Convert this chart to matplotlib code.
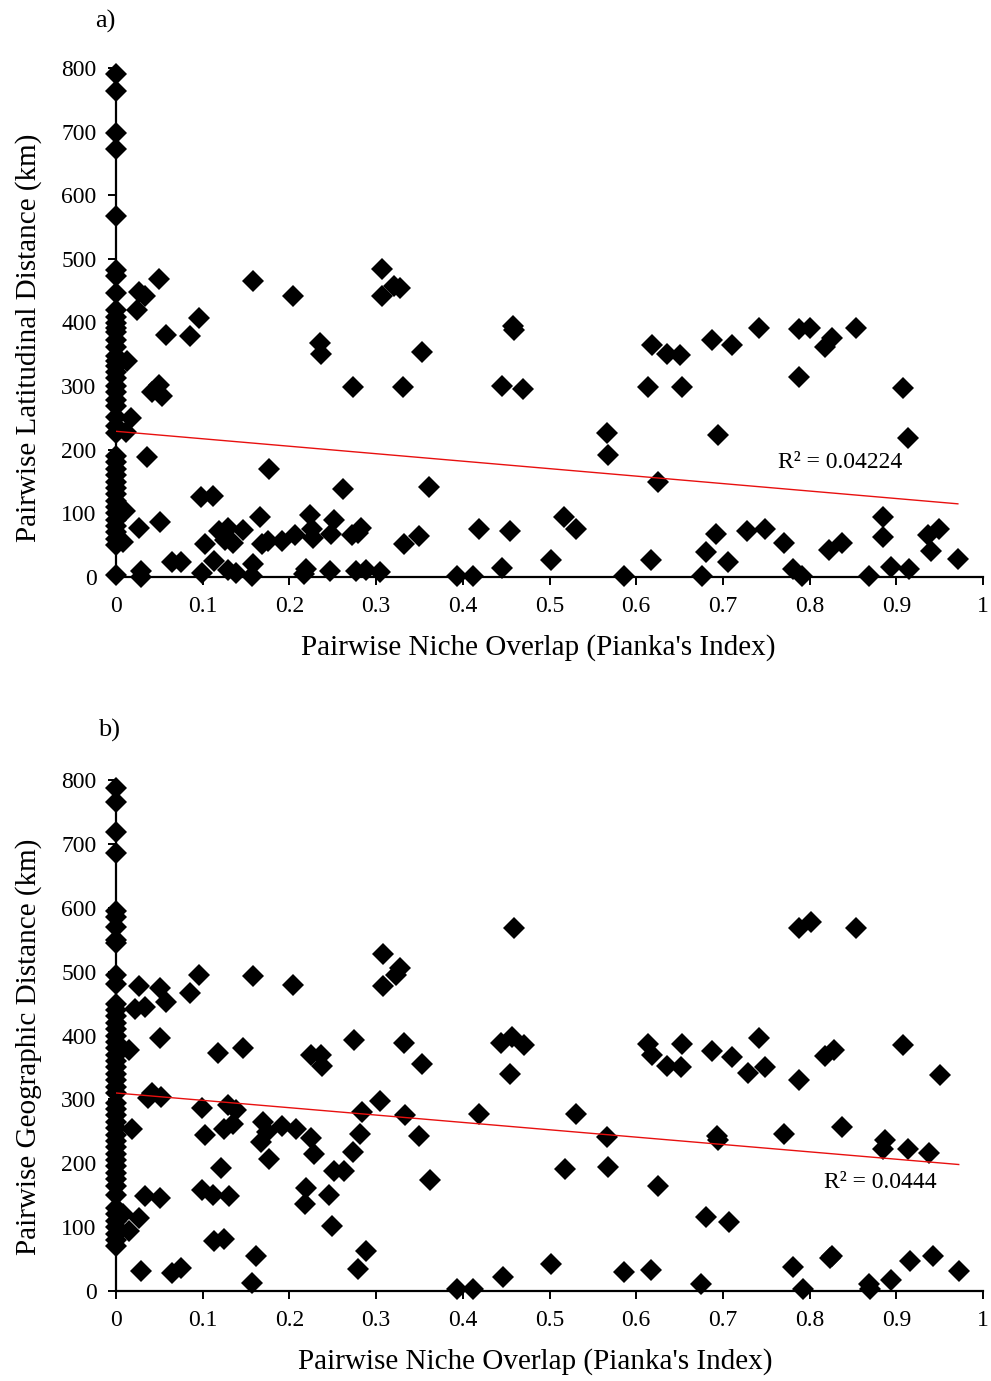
import numpy as np
import matplotlib
matplotlib.use("Agg")
import matplotlib.pyplot as plt

plt.rcParams['font.family'] = ['Liberation Serif', 'DejaVu Serif']

# ---- panel a: niche overlap vs latitudinal distance ----
# pairs with zero overlap (stacked on the y axis)
lat_zero_dist = [790, 764, 698, 673, 568, 482, 473, 446, 420, 408, 400, 392, 385, 372,
                 362, 348, 340, 332, 322, 312, 300, 290, 278, 268, 252, 238, 226, 190,
                 180, 170, 160, 150, 140, 130, 120, 110, 100, 90, 80, 70, 60, 50, 3]
lat_overlap = [0.013, 0.017, 0.010, 0.008, 0.012, 0.027, 0.050, 0.027, 0.033, 0.024,
               0.158, 0.204, 0.307, 0.307, 0.321, 0.327, 0.096, 0.058, 0.085, 0.235,
               0.237, 0.273, 0.331, 0.050, 0.042, 0.053, 0.036, 0.176, 0.262, 0.098,
               0.112, 0.051, 0.166, 0.224, 0.252, 0.119, 0.129, 0.126, 0.135, 0.147,
               0.103, 0.168, 0.175, 0.192, 0.206, 0.226, 0.227, 0.248, 0.272, 0.283,
               0.279, 0.332, 0.065, 0.075, 0.113, 0.158, 0.029, 0.029, 0.099, 0.129,
               0.138, 0.157, 0.219, 0.217, 0.247, 0.277, 0.288, 0.304,
               0.353, 0.458, 0.459, 0.445, 0.470, 0.618, 0.635, 0.651, 0.614, 0.653,
               0.566, 0.568, 0.625, 0.361, 0.350, 0.419, 0.454, 0.517, 0.530, 0.445,
               0.502, 0.617, 0.393, 0.412, 0.586, 0.676, 0.680,
               0.688, 0.711, 0.742, 0.788, 0.801, 0.818, 0.826, 0.854, 0.788, 0.908,
               0.694, 0.913, 0.692, 0.706, 0.728, 0.749, 0.771, 0.781, 0.791, 0.822,
               0.837, 0.885, 0.885, 0.868, 0.894, 0.915, 0.937, 0.949, 0.940, 0.971]
lat_distance = [340, 250, 104, 55, 228, 77, 469, 448, 442, 420,
                465, 441, 484, 442, 457, 454, 407, 380, 379, 368,
                350, 298, 298, 302, 291, 285, 188, 169, 138, 126,
                127, 86, 95, 97, 90, 72, 77, 58, 53, 74,
                52, 52, 56, 56, 66, 75, 62, 68, 66, 77,
                69, 52, 23, 23, 25, 21, 10, 0, 7, 11,
                7, 2, 12, 4, 10, 10, 11, 8,
                353, 394, 388, 300, 296, 365, 350, 349, 299, 299,
                226, 192, 150, 141, 65, 76, 73, 94, 75, 14,
                26, 27, 2, 2, 2, 2, 40,
                373, 364, 392, 390, 391, 362, 375, 391, 315, 297,
                223, 219, 68, 23, 73, 75, 53, 12, 2, 43,
                53, 95, 63, 2, 15, 12, 66, 75, 41, 29]
lat_fit = {"intercept": 229.0, "slope": -117.4}
lat_r2_text = "R² = 0.04224"

# ---- panel b: niche overlap vs geographic distance ----
geo_zero_dist = [788, 765, 718, 685, 595, 585, 570, 550, 545, 495, 480, 450, 440, 430,
                 420, 410, 400, 390, 380, 370, 360, 350, 340, 330, 320, 310, 295, 285,
                 275, 265, 255, 245, 235, 225, 215, 205, 195, 185, 175, 165, 150, 130,
                 120, 110, 100, 90, 80, 70]
geo_overlap = [0.027, 0.051, 0.022, 0.033, 0.058, 0.096, 0.085, 0.158, 0.204, 0.308,
               0.327, 0.323, 0.308, 0.051, 0.015, 0.118, 0.147, 0.225, 0.237, 0.238,
               0.274, 0.332, 0.037, 0.042, 0.052, 0.099, 0.103, 0.129, 0.138, 0.125,
               0.135, 0.169, 0.174, 0.167, 0.192, 0.208, 0.225, 0.228, 0.177, 0.121,
               0.284, 0.281, 0.273, 0.304, 0.333, 0.252, 0.263, 0.018, 0.099, 0.112,
               0.130, 0.219, 0.218, 0.246, 0.249, 0.033, 0.051, 0.026, 0.015, 0.008,
               0.113, 0.125, 0.162, 0.288, 0.279, 0.029, 0.065, 0.075, 0.157,
               0.459, 0.353, 0.444, 0.457, 0.471, 0.454, 0.350, 0.362, 0.419, 0.530,
               0.566, 0.518, 0.568, 0.625, 0.614, 0.618, 0.636, 0.652, 0.653, 0.446,
               0.502, 0.586, 0.617, 0.393, 0.412, 0.675,
               0.788, 0.802, 0.854, 0.688, 0.711, 0.742, 0.729, 0.749, 0.788, 0.818,
               0.828, 0.908, 0.950, 0.693, 0.694, 0.771, 0.837, 0.887, 0.885, 0.914,
               0.938, 0.680, 0.707, 0.781, 0.823, 0.826, 0.916, 0.942, 0.972, 0.792,
               0.868, 0.870, 0.894]
geo_distance = [478, 475, 442, 444, 452, 494, 466, 493, 479, 528,
                506, 495, 477, 396, 378, 372, 381, 370, 369, 353,
                393, 388, 302, 310, 304, 286, 245, 291, 283, 253,
                261, 265, 249, 234, 258, 253, 239, 215, 206, 193,
                280, 246, 218, 297, 275, 188, 188, 253, 158, 151,
                148, 162, 136, 151, 102, 148, 145, 115, 94, 121,
                79, 82, 55, 62, 35, 31, 28, 36, 12,
                568, 355, 388, 398, 385, 339, 242, 173, 277, 277,
                241, 191, 194, 164, 387, 369, 352, 350, 387, 22,
                43, 29, 33, 3, 3, 11,
                568, 577, 569, 375, 366, 396, 341, 350, 330, 368,
                377, 385, 338, 242, 237, 246, 256, 237, 223, 223,
                216, 116, 108, 38, 51, 55, 47, 55, 32, 3,
                11, 3, 17]
geo_fit = {"intercept": 310.0, "slope": -115.2}
geo_r2_text = "R² = 0.0444"

x_ticks = [0, 0.1, 0.2, 0.3, 0.4, 0.5, 0.6, 0.7, 0.8, 0.9, 1]
x_tick_labels = ["0", "0.1", "0.2", "0.3", "0.4", "0.5", "0.6", "0.7", "0.8", "0.9", "1"]
y_ticks = [0, 100, 200, 300, 400, 500, 600, 700, 800]

fig = plt.figure(figsize=(9.91, 13.81), dpi=100)
W, H = 991, 1381


def panel(rect_px, zero_dist, overlap, dist, fit, r2_text, r2_pos, ylabel, tag, tag_pos,
          xlabel_x, ylabel_y):
    left, top, right, bottom = rect_px
    ax = fig.add_axes([left / W, 1 - bottom / H, (right - left) / W, (bottom - top) / H])
    xs = np.concatenate([np.zeros(len(zero_dist)), np.asarray(overlap)])
    ys = np.concatenate([np.asarray(zero_dist, float), np.asarray(dist, float)])
    ax.plot(xs, ys, linestyle='none', marker='D', markersize=11.5,
            color='black', markeredgewidth=0, clip_on=False, zorder=3)
    xfit = np.array([0.0, xs.max()])
    ax.plot(xfit, fit["intercept"] + fit["slope"] * xfit, color='#e8100f',
            linewidth=1.0, zorder=4)
    ax.set_xlim(0, 1)
    ax.set_ylim(0, 800)
    ax.set_xticks(x_ticks)
    ax.set_xticklabels(x_tick_labels)
    ax.set_yticks(y_ticks)
    for s in ('top', 'right'):
        ax.spines[s].set_visible(False)
    for s in ('left', 'bottom'):
        ax.spines[s].set_linewidth(1.6)
    ax.tick_params(direction='out', length=6, width=1.4, labelsize=17)
    ax.tick_params(axis='x', pad=8)
    ax.tick_params(axis='y', pad=8)
    ax.set_xlabel("Pairwise Niche Overlap (Pianka's Index)", fontsize=21, labelpad=12)
    ax.set_ylabel(ylabel, fontsize=21, labelpad=14)
    ax.xaxis.label.set_x(xlabel_x)
    ax.yaxis.label.set_y(ylabel_y)
    ax.text(r2_pos[0], r2_pos[1], r2_text, fontsize=17, ha='center', va='center')
    fig.text(tag_pos[0] / W, 1 - tag_pos[1] / H, tag, fontsize=19, ha='center', va='center')
    return ax


panel((116, 68, 983, 577), lat_zero_dist, lat_overlap, lat_distance, lat_fit,
      lat_r2_text, (0.835, 180), "Pairwise Latitudinal Distance (km)", "a)", (105, 21),
      0.487, 0.47)
panel((116, 780, 983, 1291), geo_zero_dist, geo_overlap, geo_distance, geo_fit,
      geo_r2_text, (0.881, 170), "Pairwise Geographic Distance (km)", "b)", (109, 730),
      0.483, 0.478)

fig.savefig("out.png", dpi=100, facecolor='white')
